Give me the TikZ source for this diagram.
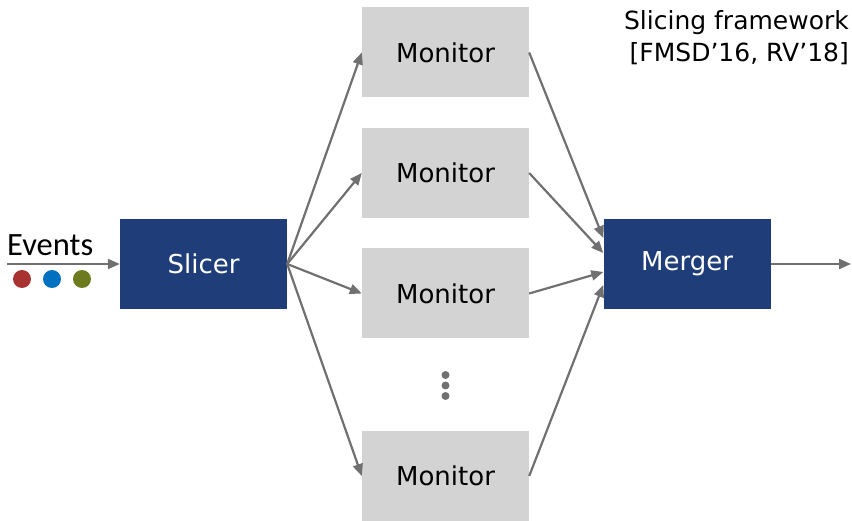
\documentclass[tikz,border=0pt]{standalone}
\usepackage{fontspec}
\setmainfont{DejaVu Sans}
\newfontfamily\eventsfont{Carlito}
\usetikzlibrary{arrows.meta,calc}
\definecolor{boxblue}{HTML}{1F3E79}
\definecolor{boxgray}{HTML}{D3D3D3}
\definecolor{linkgray}{HTML}{707070}
\definecolor{evred}{HTML}{A8322F}
\definecolor{evblue}{HTML}{0070C0}
\definecolor{evolive}{HTML}{6E7A1E}
\tikzset{
  stagebox/.style={rectangle, fill=boxblue, text=white, minimum width=167pt,
    minimum height=90pt, inner sep=0pt, font=\fontsize{26}{30}\selectfont},
  monbox/.style={rectangle, fill=boxgray, text=black, minimum width=167pt,
    minimum height=90pt, inner sep=0pt, font=\fontsize{26}{30}\selectfont},
  link/.style={draw=linkgray, line width=2.2pt,
    -{Triangle[length=12pt,width=10pt]}},
  titletext/.style={anchor=base east, inner sep=0pt,
    font=\fontsize{25}{30}\selectfont},
}
\begin{document}
\begin{tikzpicture}[x=1pt,y=-1pt]
\useasboundingbox (0,0) rectangle (852,521);

% pipeline stages
\node[stagebox] (sl) at (203.5,264) {Slicer};
\node[stagebox] (mg) at (687,264) {Merger};

% monitor instances
\node[monbox] (m1) at (445.5,52.5) {Monitor};
\node[monbox] (m2) at (445.5,173) {Monitor};
\node[monbox] (m3) at (445.5,293.5) {Monitor};
\node[monbox] (m4) at (445.5,476) {Monitor};

% vertical ellipsis between monitors
\foreach \yy in {375,385.5,396}
  \fill[linkgray] (445.5,\yy) circle (4pt);

% incoming event stream
\coordinate (in) at (7,264);
\node[font=\eventsfont\fontsize{32.5}{36}\selectfont, anchor=base west, inner sep=0pt]
  (ev) at (7,256) {Events};
\draw[link] (in) -- (sl.west);
\fill[evred]   (22,279) circle (9pt);
\fill[evblue]  (52,279) circle (9pt);
\fill[evolive] (82,279) circle (9pt);

% slicer fans out to the monitors
\foreach \m in {m1,m2,m3,m4}
  \draw[link] (sl.east) -- (\m.west);

% monitors feed the merger
\draw[link] (m1.east) -- ($(mg.west)+(0,-26)$);
\draw[link] (m2.east) -- ($(mg.west)+(0,-11)$);
\draw[link] (m3.east) -- ($(mg.west)+(0,8)$);
\draw[link] (m4.east) -- ($(mg.west)+(0,21)$);

% output
\coordinate (out) at (851,264);
\draw[link] (mg.east) -- (out);

% title
\node[titletext] (title) at (849,30) {Slicing framework};
\node[titletext] (refs) at (849,62) {[FMSD’16, RV’18]};
\end{tikzpicture}
\end{document}
